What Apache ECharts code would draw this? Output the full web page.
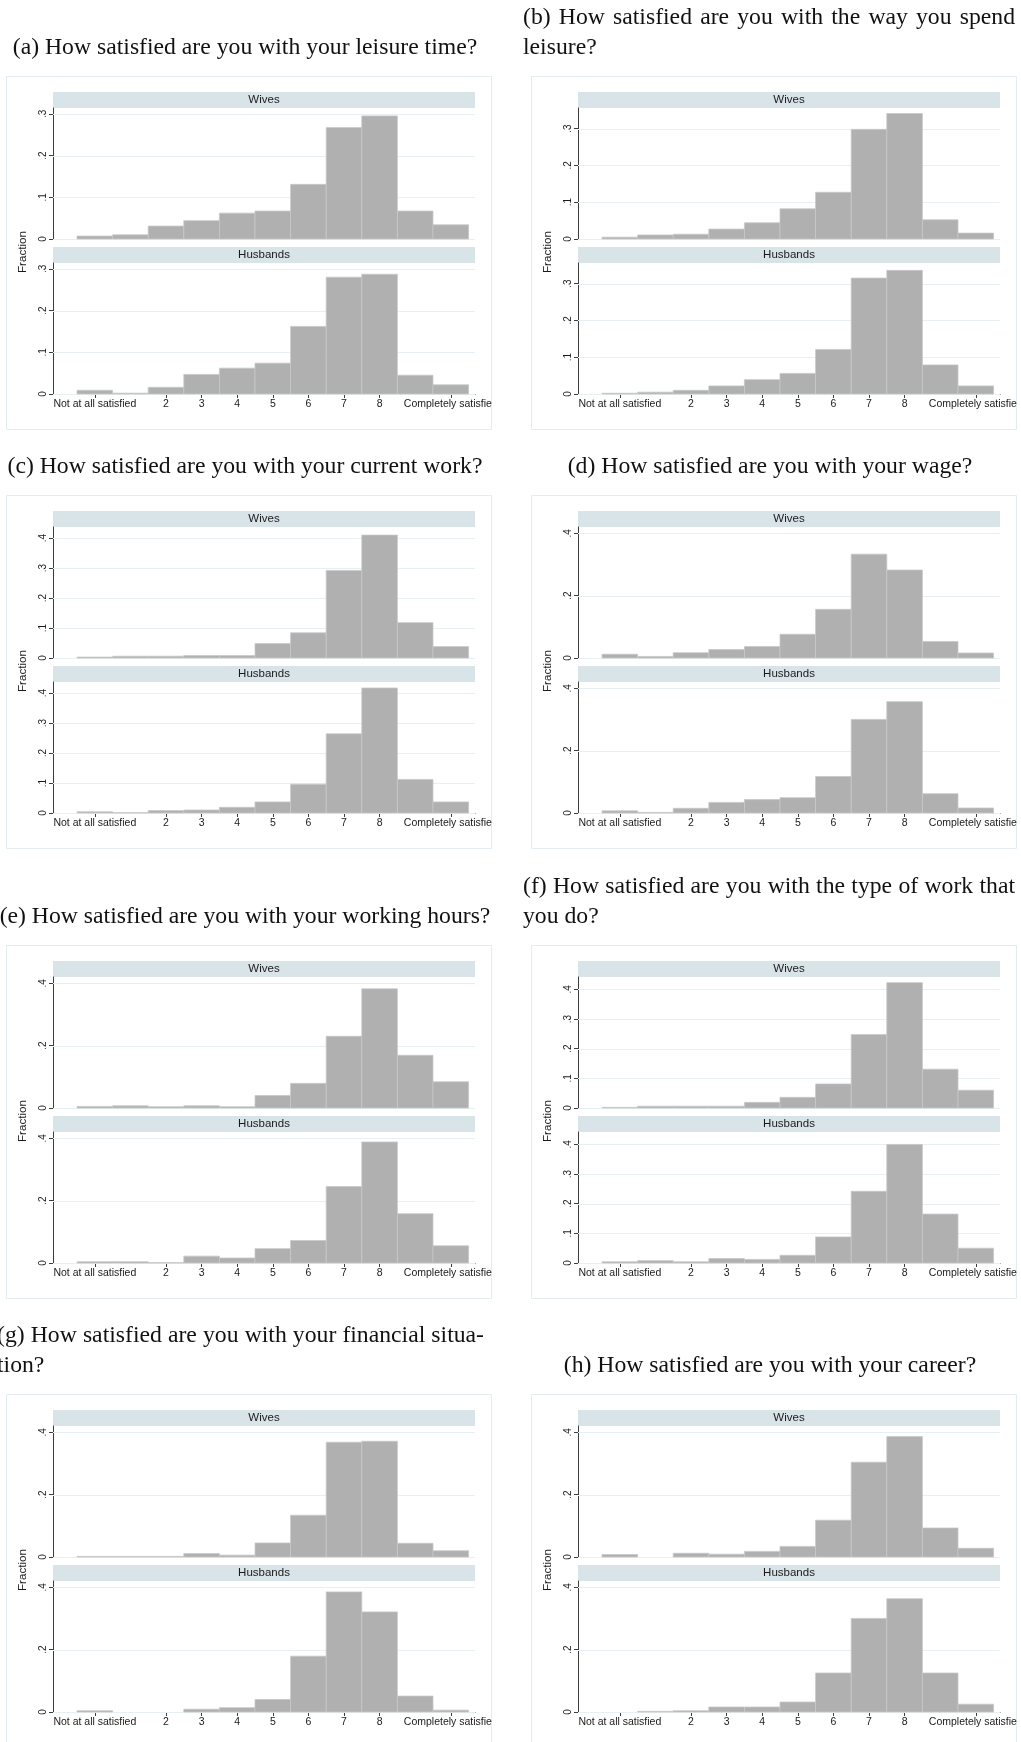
<!DOCTYPE html>
<html>
<head>
<meta charset="utf-8">
<title>Satisfaction histograms</title>
<script src="https://cdn.jsdelivr.net/npm/echarts@6/dist/echarts.min.js"></script>
<style>
  html, body { margin: 0; padding: 0; background: #fff; overflow: hidden; width: 1021px; height: 1742px; }
  .panel { position: absolute; }
</style>
</head>
<body>
<div id="panel-a" class="panel"></div>
<div id="panel-b" class="panel"></div>
<div id="panel-c" class="panel"></div>
<div id="panel-d" class="panel"></div>
<div id="panel-e" class="panel"></div>
<div id="panel-f" class="panel"></div>
<div id="panel-g" class="panel"></div>
<div id="panel-h" class="panel"></div>
<script>
// ---- data -----------------------------------------------------------------
// response scale 0..10, one bar per answer
const CATEGORIES = [0, 1, 2, 3, 4, 5, 6, 7, 8, 9, 10];
const X_TICK_VALUES = [0, 2, 3, 4, 5, 6, 7, 8, 10];
const X_TICK_LABELS = ['Not at all satisfied', '2', '3', '4', '5', '6', '7', '8', 'Completely satisfied'];
const FACETS = ['Wives', 'Husbands'];
const Y_TITLE = 'Fraction';

const CAPTION_A = ['(a) How satisfied are you with your leisure time?'];
const CAPTION_B = ['(b) How satisfied are you with the way you spend', 'leisure?'];
const CAPTION_C = ['(c) How satisfied are you with your current work?'];
const CAPTION_D = ['(d) How satisfied are you with your wage?'];
const CAPTION_E = ['(e) How satisfied are you with your working hours?'];
const CAPTION_F = ['(f) How satisfied are you with the type of work that', 'you do?'];
const CAPTION_G = ['(g) How satisfied are you with your financial situa-', 'tion?'];
const CAPTION_H = ['(h) How satisfied are you with your career?'];

// fractions of respondents per answer
const WIVES_A    = [0.007, 0.010, 0.031, 0.044, 0.062, 0.067, 0.131, 0.267, 0.295, 0.067, 0.034];
const HUSBANDS_A = [0.009, 0.002, 0.016, 0.047, 0.062, 0.074, 0.162, 0.280, 0.287, 0.045, 0.022];
const WIVES_B    = [0.005, 0.011, 0.013, 0.027, 0.044, 0.082, 0.127, 0.298, 0.341, 0.052, 0.016];
const HUSBANDS_B = [0.002, 0.005, 0.010, 0.022, 0.039, 0.056, 0.121, 0.315, 0.336, 0.079, 0.022];
const WIVES_C    = [0.003, 0.006, 0.006, 0.008, 0.008, 0.048, 0.084, 0.292, 0.410, 0.118, 0.038];
const HUSBANDS_C = [0.004, 0.001, 0.008, 0.010, 0.019, 0.037, 0.096, 0.264, 0.417, 0.112, 0.037];
const WIVES_D    = [0.012, 0.005, 0.017, 0.027, 0.037, 0.076, 0.156, 0.333, 0.282, 0.053, 0.016];
const HUSBANDS_D = [0.007, 0.002, 0.015, 0.034, 0.043, 0.049, 0.117, 0.300, 0.357, 0.062, 0.016];
const WIVES_E    = [0.005, 0.007, 0.004, 0.007, 0.004, 0.040, 0.079, 0.230, 0.382, 0.169, 0.084];
const HUSBANDS_E = [0.004, 0.004, 0.001, 0.022, 0.016, 0.046, 0.072, 0.245, 0.388, 0.158, 0.055];
const WIVES_F    = [0.002, 0.006, 0.006, 0.006, 0.019, 0.036, 0.081, 0.248, 0.423, 0.131, 0.060];
const HUSBANDS_F = [0.004, 0.008, 0.004, 0.015, 0.012, 0.026, 0.088, 0.242, 0.400, 0.165, 0.050];
const WIVES_G    = [0.002, 0.002, 0.002, 0.011, 0.006, 0.045, 0.134, 0.368, 0.371, 0.044, 0.020];
const HUSBANDS_G = [0.004, 0.000, 0.000, 0.009, 0.014, 0.040, 0.179, 0.385, 0.321, 0.051, 0.006];
const WIVES_H    = [0.008, 0.000, 0.012, 0.009, 0.018, 0.034, 0.118, 0.304, 0.386, 0.093, 0.028];
const HUSBANDS_H = [0.000, 0.002, 0.004, 0.016, 0.016, 0.032, 0.125, 0.300, 0.363, 0.125, 0.025];

// y-axis tick labels and upper limits
const Y_TICKS_A = [0, 0.1, 0.2, 0.3];
const Y_TICKS_B = [0, 0.1, 0.2, 0.3];
const Y_TICKS_C = [0, 0.1, 0.2, 0.3, 0.4];
const Y_TICKS_D = [0, 0.2, 0.4];
const Y_TICKS_E = [0, 0.2, 0.4];
const Y_TICKS_F = [0, 0.1, 0.2, 0.3, 0.4];
const Y_TICKS_G = [0, 0.2, 0.4];
const Y_TICKS_H = [0, 0.2, 0.4];
const Y_MAX = { a: 0.314, b: 0.356, c: 0.437, d: 0.42, e: 0.42, f: 0.442, g: 0.42, h: 0.42 };
const X_MIN = -1.175, X_MAX = 10.68;

// ---- layout ---------------------------------------------------------------
const PANELS = [
  { id: 'a', row: 0, col: 0, caption: CAPTION_A, wives: WIVES_A, husbands: HUSBANDS_A, yTicks: Y_TICKS_A },
  { id: 'b', row: 0, col: 1, caption: CAPTION_B, wives: WIVES_B, husbands: HUSBANDS_B, yTicks: Y_TICKS_B },
  { id: 'c', row: 1, col: 0, caption: CAPTION_C, wives: WIVES_C, husbands: HUSBANDS_C, yTicks: Y_TICKS_C },
  { id: 'd', row: 1, col: 1, caption: CAPTION_D, wives: WIVES_D, husbands: HUSBANDS_D, yTicks: Y_TICKS_D },
  { id: 'e', row: 2, col: 0, caption: CAPTION_E, wives: WIVES_E, husbands: HUSBANDS_E, yTicks: Y_TICKS_E },
  { id: 'f', row: 2, col: 1, caption: CAPTION_F, wives: WIVES_F, husbands: HUSBANDS_F, yTicks: Y_TICKS_F },
  { id: 'g', row: 3, col: 0, caption: CAPTION_G, wives: WIVES_G, husbands: HUSBANDS_G, yTicks: Y_TICKS_G },
  { id: 'h', row: 3, col: 1, caption: CAPTION_H, wives: WIVES_H, husbands: HUSBANDS_H, yTicks: Y_TICKS_H }
];

const ROW_FRAME_TOP = [76, 495, 945, 1394];
const COL_LEFT = [0, 512];
const COL_WIDTH = [492, 505];
const FRAME_X = [6, 19];          // frame left edge inside the panel
const CAPTION_CENTER = [245, 258];
const BLOCK_LEFT = [-3, 11];
const BLOCK_RIGHT = [484, 503];
const F = 76;                     // frame top inside the panel
const PANEL_H = 432;

const SERIF = '"Liberation Serif", "Times New Roman", serif';
const SANS = '"Liberation Sans", Arial, Helvetica, sans-serif';
const CAPTION_SIZE = 23.7;
const BAR_FILL = '#b0b0b0';
const BAR_EDGE = '#c8c8c8';
const STRIP = '#d9e4e9';
const GRID_LINE = '#e6eff1';
const FRAME_LINE = '#e3ecee';
const AXIS = '#3c3c3c';
const INK = '#1a1a1a';

const measureCtx = document.createElement('canvas').getContext('2d');
measureCtx.font = CAPTION_SIZE + 'px ' + SERIF;
const textWidth = s => measureCtx.measureText(s).width;

function stataNum(v) {
  if (v === 0) return '0';
  return String(+v.toFixed(2)).replace(/^0\./, '.');
}

function captionElements(lines, col) {
  const els = [];
  const lastBase = 55, lineGap = 29.5;
  const txt = (s, x, baseline, align) => ({
    type: 'text', x: x, y: baseline - 7.5, silent: true,
    style: { text: s, fontSize: CAPTION_SIZE, fontFamily: SERIF, fill: '#111', align: align, verticalAlign: 'middle' }
  });
  if (lines.length === 1) {
    els.push(txt(lines[0], CAPTION_CENTER[col], lastBase, 'center'));
    return els;
  }
  // justified first line, flush-left last line
  const words = lines[0].split(' ');
  const widths = words.map(textWidth);
  const total = widths.reduce((a, b) => a + b, 0);
  const gap = (BLOCK_RIGHT[col] - BLOCK_LEFT[col] - total) / (words.length - 1);
  let x = BLOCK_LEFT[col];
  words.forEach((w, i) => {
    els.push(txt(w, x, lastBase - lineGap, 'left'));
    x += widths[i] + gap;
  });
  els.push(txt(lines[1], BLOCK_LEFT[col], lastBase, 'left'));
  return els;
}

function histogramSeries(values, idx) {
  return {
    type: 'custom',
    xAxisIndex: idx, yAxisIndex: idx,
    data: CATEGORIES.map((c, k) => [c, values[k]]),
    renderItem: function (params, api) {
      const x = api.value(0), v = api.value(1);
      if (!v) return { type: 'group', children: [] };
      const p0 = api.coord([x - 0.5, v]);
      const p1 = api.coord([x + 0.5, 0]);
      return {
        type: 'rect',
        shape: { x: p0[0], y: p0[1], width: p1[0] - p0[0], height: p1[1] - p0[1] },
        style: { fill: BAR_FILL, stroke: BAR_EDGE, lineWidth: 0.8 }
      };
    },
    z: 20
  };
}

function gridLineSeries(ticks, idx) {
  // light horizontal rules at the labelled y values, kept behind the bars
  return {
    type: 'custom',
    xAxisIndex: idx, yAxisIndex: idx, silent: true, z: 1,
    data: ticks.map(v => [v]),
    renderItem: function (params, api) {
      const v = api.value(0);
      const a = api.coord([X_MIN, v]);
      const b = api.coord([X_MAX, v]);
      const y = Math.round(a[1]) + 0.5;
      return {
        type: 'line',
        shape: { x1: a[0], y1: y, x2: b[0], y2: y },
        style: { stroke: GRID_LINE, lineWidth: 1 }
      };
    },
    encode: { y: 0 }
  };
}

function buildOption(p) {
  const x0 = FRAME_X[p.col];
  const plotL = x0 + 47, plotW = 422;
  const tops = [F + 32, F + 187];
  const plotH = 131;
  const yMax = Y_MAX[p.id];

  const grid = tops.map(t => ({
    left: plotL, top: t, width: plotW, height: plotH,
    containLabel: false, outerBoundsMode: 'none'
  }));

  const xAxis = tops.map((t, i) => ({
    type: 'value', gridIndex: i, min: X_MIN, max: X_MAX,
    axisLine: { show: i === 1, onZero: false, lineStyle: { color: AXIS, width: 1 } },
    axisTick: { show: i === 1, customValues: X_TICK_VALUES, length: 4, lineStyle: { color: AXIS, width: 1 } },
    axisLabel: {
      show: i === 1, customValues: X_TICK_VALUES, margin: 5,
      fontSize: 10.5, fontFamily: SANS, color: INK,
      formatter: v => X_TICK_LABELS[X_TICK_VALUES.indexOf(v)]
    },
    splitLine: { show: false }
  }));

  const yAxis = tops.map((t, i) => ({
    type: 'value', gridIndex: i, min: 0, max: yMax,
    axisLine: { show: true, onZero: false, lineStyle: { color: AXIS, width: 1 } },
    axisTick: { show: true, customValues: p.yTicks, length: 4, lineStyle: { color: AXIS, width: 1 } },
    axisLabel: {
      customValues: p.yTicks, rotate: 90, margin: 5,
      fontSize: 10, fontFamily: SANS, color: INK, formatter: stataNum
    },
    splitLine: { show: false }
  }));

  const series = [
    gridLineSeries(p.yTicks, 0), gridLineSeries(p.yTicks, 1),
    histogramSeries(p.wives, 0), histogramSeries(p.husbands, 1)
  ];

  const graphic = [
    { type: 'rect', z: -10, silent: true,
      shape: { x: x0 + 0.5, y: F + 0.5, width: 485, height: 353 },
      style: { fill: '#fff', stroke: FRAME_LINE, lineWidth: 1 } }
  ];
  tops.forEach((t, i) => {
    graphic.push({ type: 'rect', silent: true,
      shape: { x: plotL, y: t - 16, width: plotW, height: 16 },
      style: { fill: STRIP } });
    graphic.push({ type: 'text', silent: true, x: plotL + plotW / 2, y: t - 8,
      style: { text: FACETS[i], fontSize: 11.5, fontFamily: SANS, fill: INK, align: 'center', verticalAlign: 'middle' } });
  });
  graphic.push({ type: 'text', silent: true, x: x0 + 17, y: F + 176, rotation: Math.PI / 2,
    style: { text: Y_TITLE, fontSize: 11.7, fontFamily: SANS, fill: INK, align: 'center', verticalAlign: 'middle' } });
  captionElements(p.caption, p.col).forEach(e => graphic.push(e));

  return { animation: false, backgroundColor: 'transparent', grid, xAxis, yAxis, series, graphic };
}

PANELS.forEach(p => {
  const el = document.getElementById('panel-' + p.id);
  el.style.left = COL_LEFT[p.col] + 'px';
  el.style.top = (ROW_FRAME_TOP[p.row] - F) + 'px';
  el.style.width = COL_WIDTH[p.col] + 'px';
  el.style.height = PANEL_H + 'px';
  const chart = echarts.init(el, null, { renderer: 'canvas' });
  chart.setOption(buildOption(p));
});
</script>
</body>
</html>
